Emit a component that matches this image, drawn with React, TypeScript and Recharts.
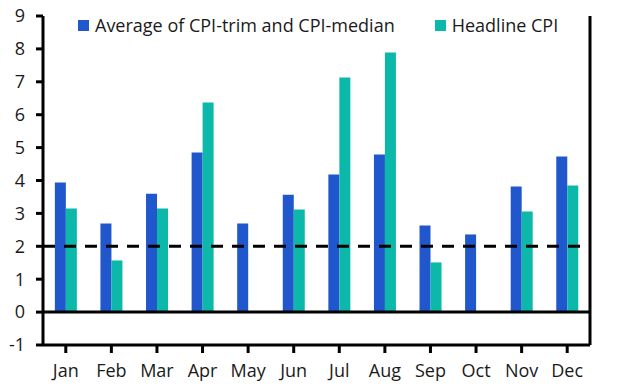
import React from 'react';
import { ComposedChart, Bar, XAxis, YAxis, ReferenceLine, Legend } from 'recharts';

const months = ['Jan', 'Feb', 'Mar', 'Apr', 'May', 'Jun', 'Jul', 'Aug', 'Sep', 'Oct', 'Nov', 'Dec'];
const trimMedianAvg = [3.94, 2.69, 3.6, 4.85, 2.69, 3.57, 4.18, 4.79, 2.63, 2.36, 3.82, 4.73];
const headlineCpi: (number | null)[] = [3.15, 1.57, 3.15, 6.37, null, 3.12, 7.13, 7.89, 1.51, null, 3.06, 3.85];
const yTicks = [-1, 0, 1, 2, 3, 4, 5, 6, 7, 8, 9];

const BLUE = '#2157cd';
const TEAL = '#0cb8aa';
const FONT = '"Open Sans", "Noto Sans", sans-serif';

const data = months.map((m, i) => ({ month: m, avg: trimMedianAvg[i], headline: headlineCpi[i] }));

const legendItems = [
    { label: 'Average of CPI-trim and CPI-median', color: BLUE },
    { label: 'Headline CPI', color: TEAL },
];

const renderLegend = () => (
    <div style={{ display: 'flex', gap: 40, fontFamily: FONT, fontSize: 18, color: '#1a1a1a', lineHeight: '22px' }}>
        {legendItems.map((item) => (
            <div key={item.label} style={{ display: 'flex', alignItems: 'center', gap: 6 }}>
                <span style={{ width: 11, height: 11, background: item.color, display: 'inline-block' }} />
                <span>{item.label}</span>
            </div>
        ))}
    </div>
);

const tickStyle = { fill: '#1a1a1a', fontSize: 18, fontFamily: FONT };

export default function App() {
    return (
        <div style={{ position: 'absolute', left: 0, top: 0, width: 633, height: 387, background: '#fff' }}>
            <ComposedChart
                width={633}
                height={387}
                data={data}
                margin={{ top: 16, right: 0, bottom: 0, left: 0 }}
                barCategoryGap="26%"
                barGap={0}
            >
                <XAxis
                    dataKey="month"
                    height={42}
                    interval={0}
                    tick={tickStyle}
                    tickSize={8}
                    tickMargin={11}
                    axisLine={{ stroke: '#000', strokeWidth: 3 }}
                    tickLine={{ stroke: '#000', strokeWidth: 3 }}
                />
                <YAxis
                    yAxisId="left"
                    width={43}
                    domain={[-1, 9]}
                    ticks={yTicks}
                    interval={0}
                    tick={tickStyle}
                    tickSize={7}
                    tickMargin={11}
                    axisLine={{ stroke: '#000', strokeWidth: 3 }}
                    tickLine={{ stroke: '#000', strokeWidth: 3 }}
                />
                <YAxis
                    yAxisId="right"
                    orientation="right"
                    width={43}
                    domain={[-1, 9]}
                    ticks={yTicks}
                    interval={0}
                    tick={tickStyle}
                    tickSize={7}
                    tickMargin={12}
                    axisLine={{ stroke: '#000', strokeWidth: 3 }}
                    tickLine={{ stroke: '#000', strokeWidth: 3 }}
                />
                <Legend
                    layout="horizontal"
                    verticalAlign="middle"
                    content={renderLegend}
                    wrapperStyle={{ top: 14, left: 78, width: 'auto', height: 'auto' }}
                />
                <Bar yAxisId="left" dataKey="avg" fill={BLUE} isAnimationActive={false} />
                <Bar yAxisId="left" dataKey="headline" fill={TEAL} isAnimationActive={false} />
                <ReferenceLine yAxisId="left" y={0} stroke="#000" strokeWidth={3} />
                <ReferenceLine yAxisId="left" y={2} stroke="#000" strokeWidth={3} strokeDasharray="12 9" />
            </ComposedChart>
        </div>
    );
}
